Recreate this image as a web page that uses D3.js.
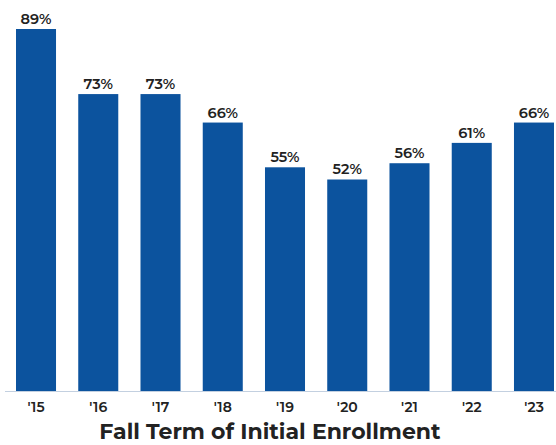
<!DOCTYPE html>
<html>
<head>
<meta charset="utf-8">
<script src="https://cdn.jsdelivr.net/npm/d3@7"></script>
<style>
  body { margin: 0; background: #fff; }
  text { font-family: Montserrat, "Open Sans", "DejaVu Sans", sans-serif; }
</style>
</head>
<body>
<div id="chart"></div>
<script>
// data
const years = ["'15", "'16", "'17", "'18", "'19", "'20", "'21", "'22", "'23"];
const rates = [89, 73, 73, 66, 55, 52, 56, 61, 66];

const w = 556;
const h = 445;
const baseY = 391;

const svg = d3.select("#chart")
      .append("svg")
      .attr("width", w)
      .attr("height", h);

const x = d3.scaleBand()
      .domain(years)
      .range([3.55, 566.45])
      .paddingInner(0.357)
      .paddingOuter(0.2);

const y = d3.scaleLinear()
      .domain([0, 89])
      .range([baseY, 29]);

// bars
svg.selectAll("rect")
      .data(rates)
      .enter()
      .append("rect")
      .attr("x", (d, i) => x(years[i]))
      .attr("y", (d) => y(d))
      .attr("width", x.bandwidth())
      .attr("height", (d) => baseY - y(d))
      .style("fill", "#0c539e");

// value labels
svg.selectAll(".val")
      .data(rates)
      .enter()
      .append("text")
      .attr("class", "val")
      .attr("x", (d, i) => x(years[i]) + x.bandwidth() / 2)
      .attr("y", (d) => y(d) - 5)
      .attr("text-anchor", "middle")
      .style("font-size", "14.5px")
      .style("font-weight", "600")
      .style("fill", "#222")
      .text((d) => d + "%");

// x axis
const axis = svg.append("g")
      .attr("transform", `translate(0,${baseY})`)
      .call(d3.axisBottom(x).tickSize(0).tickPadding(11));
axis.select(".domain").remove();
axis.selectAll("text")
      .style("font-size", "14px")
      .style("font-weight", "600")
      .style("fill", "#222");

svg.append("line")
      .attr("x1", 5)
      .attr("x2", w)
      .attr("y1", baseY + 0.5)
      .attr("y2", baseY + 0.5)
      .style("stroke", "#c3d0e0")
      .style("stroke-width", 1);

// axis title
svg.append("text")
      .attr("x", 270)
      .attr("y", 439)
      .attr("text-anchor", "middle")
      .style("font-size", "22px")
      .style("font-weight", "bold")
      .style("fill", "#222")
      .text("Fall Term of Initial Enrollment");
</script>
</body>
</html>
